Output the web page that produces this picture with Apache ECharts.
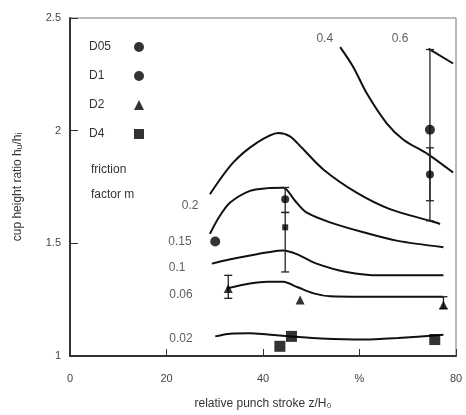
<!DOCTYPE html>
<html><head><meta charset="utf-8">
<script src="https://cdn.jsdelivr.net/npm/echarts@6/dist/echarts.min.js"></script>
<style>html,body{margin:0;padding:0;background:#fff}#c{width:466px;height:415px}</style>
</head><body><div id="c"></div>
<script>
// ---- data ----
const xTickLabels = {0:'0',20:'20',40:'40',60:'%',80:'80'};
const yTickLabels = {1:'1',1.5:'1.5',2:'2',2.5:'2.5'};
const curveNames = ['0.02','0.06','0.1','0.15','0.2','0.4','0.6'];
const curve002 = [[30.1,1.087],[33.2,1.099],[37.3,1.101],[41,1.095],[45.9,1.087],[52,1.078],[60.8,1.073],[68,1.080],[77.4,1.094]];
const curve006 = [[32.5,1.300],[37.3,1.322],[41,1.330],[44.2,1.329],[47.2,1.305],[50.5,1.278],[53.9,1.265],[60.8,1.263],[77.4,1.263]];
const curve01  = [[29.4,1.410],[33,1.428],[37.3,1.446],[41,1.460],[44.2,1.468],[47.0,1.452],[51.1,1.410],[57.3,1.373],[64.2,1.358],[77.4,1.358]];
const curve015 = [[29.0,1.542],[31,1.620],[33.2,1.681],[37.3,1.733],[41,1.745],[44.2,1.747],[46.6,1.690],[49.0,1.637],[53.9,1.593],[60.8,1.549],[67.7,1.512],[77.4,1.483]];
const curve02  = [[29.0,1.718],[33.8,1.858],[38.7,1.946],[43.2,1.990],[45.6,1.975],[48,1.925],[52.5,1.828],[59.4,1.725],[66.3,1.652],[74.6,1.600],[76.7,1.586]];
const curve04  = [[56.0,2.371],[58.7,2.283],[61.5,2.166],[65.6,2.034],[69.1,1.960],[74.3,1.894],[79.4,1.814]];
const curve06  = [[74.3,2.364],[79.4,2.298]];
const curveLabelPos = [[23.0,1.075],[23.0,1.273],[22.2,1.392],[22.8,1.507],[24.9,1.667],[52.8,2.41],[68.4,2.41]];
const D05 = [[30.1,1.508],[74.6,2.004]];
const D1  = [[44.6,1.696],[74.6,1.806]];
const D2  = [[32.8,1.300],[47.7,1.248],[77.4,1.226]];
const D4  = [[43.5,1.043],[45.9,1.087],[75.6,1.073]];
const D4mid = [[44.6,1.571]];
// error bars: [x, low, high]
const errorBars = [[74.6,1.60,2.36],[74.6,1.689,1.924],[44.6,1.637,1.748],[44.6,1.373,1.637],[32.8,1.256,1.358],[77.4,1.211,1.263]];

const FONT = 'Liberation Sans, Arial, sans-serif';
const chart = echarts.init(document.getElementById('c'));
const curves = [curve002,curve006,curve01,curve015,curve02,curve04,curve06];
const series = curves.map((d,i)=>({
  type:'line', name:'m'+curveNames[i], data:d, smooth:0.3, symbol:'none',
  lineStyle:{color:'#111',width:2}, silent:true, z:2
}));
series.push({
  type:'scatter', name:'labels', symbolSize:0, silent:true,
  data: curveLabelPos.map((p,i)=>({value:p, name:curveNames[i]})),
  label:{show:true, position:'inside', formatter:p=>p.name, color:'#333', fontSize:12, fontFamily:FONT}
});
series.push({
  type:'custom', name:'err', z:3, silent:true,
  data: errorBars,
  renderItem:(params, api)=>{
    const x = api.value(0);
    const lo = api.coord([x, api.value(1)]);
    const hi = api.coord([x, api.value(2)]);
    const w = 4;
    return {type:'group', children:[
      {type:'line', shape:{x1:lo[0],y1:lo[1],x2:hi[0],y2:hi[1]}, style:{stroke:'#222',lineWidth:1.3}},
      {type:'line', shape:{x1:lo[0]-w,y1:lo[1],x2:lo[0]+w,y2:lo[1]}, style:{stroke:'#222',lineWidth:1.3}},
      {type:'line', shape:{x1:hi[0]-w,y1:hi[1],x2:hi[0]+w,y2:hi[1]}, style:{stroke:'#222',lineWidth:1.3}}
    ]};
  }
});
series.push({type:'scatter', name:'D05', data:D05, symbol:'circle', symbolSize:10, itemStyle:{color:'#000'}, z:4});
series.push({type:'scatter', name:'D1', data:D1, symbol:'circle', symbolSize:8, itemStyle:{color:'#000'}, z:4});
series.push({type:'scatter', name:'D2', data:D2, symbol:'triangle', symbolSize:9, itemStyle:{color:'#000'}, z:4});
series.push({type:'scatter', name:'D4', data:D4, symbol:'rect', symbolSize:11, itemStyle:{color:'#000'}, z:4});
series.push({type:'scatter', name:'D4m', data:D4mid, symbol:'rect', symbolSize:6, itemStyle:{color:'#000'}, z:4});

chart.setOption({
  animation:false,
  backgroundColor:'#fff',
  grid:{left:70, right:10, top:18, bottom:57, show:true, borderColor:'#777', borderWidth:1},
  title:{text:'friction\nfactor m', left:86, top:152, textStyle:{fontSize:12, fontWeight:'normal', color:'#333', fontFamily:FONT, lineHeight:25}},
  legend:{
    orient:'vertical', left:84, top:36, align:'right', itemGap:17, itemWidth:10, itemHeight:10,
    data:[{name:'D05',icon:'circle'},{name:'D1',icon:'circle'},{name:'D2',icon:'triangle'},{name:'D4',icon:'rect'}],
    formatter: name => '{a|' + name + '}',
    textStyle:{fontSize:12, color:'#333', fontFamily:FONT,
      rich:{a:{width:40, align:'left', fontSize:12, color:'#333', fontFamily:FONT}}}
  },
  xAxis:{
    type:'value', min:0, max:80, interval:20,
    name:'relative punch stroke z/H\u2080', nameLocation:'middle', nameGap:42,
    nameTextStyle:{fontSize:12, color:'#333', fontFamily:FONT},
    axisLine:{lineStyle:{color:'#333', width:2}},
    axisTick:{inside:true, length:7, lineStyle:{color:'#333'}},
    axisLabel:{formatter:v=>xTickLabels[v], color:'#444', fontSize:11, fontFamily:FONT, margin:17},
    splitLine:{show:false}
  },
  yAxis:{
    type:'value', min:1, max:2.5, interval:0.5,
    name:'cup height ratio h\u1d64/h\u1d62', nameLocation:'middle', nameGap:46, nameRotate:90,
    nameTextStyle:{fontSize:12, color:'#333', fontFamily:FONT},
    axisLine:{lineStyle:{color:'#333', width:2}},
    axisTick:{inside:true, length:8, lineStyle:{color:'#333'}},
    axisLabel:{formatter:v=>yTickLabels[v], color:'#444', fontSize:11, fontFamily:FONT, margin:9},
    splitLine:{show:false}
  },
  series:series
});
</script></body></html>
